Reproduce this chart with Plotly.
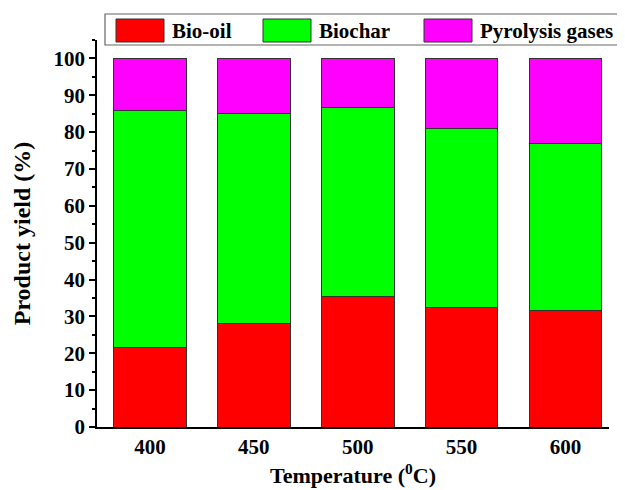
import plotly.graph_objects as go

temperatures = ["400", "450", "500", "550", "600"]
bio_oil = [21.5, 28.2, 35.3, 32.4, 31.7]
biochar = [64.4, 56.8, 51.3, 48.7, 45.3]
pyrolysis_gases = [14.1, 15.0, 13.4, 18.9, 23.0]
series_names = ["Bio-oil", "Biochar", "Pyrolysis gases"]
colors = ["#FF0000", "#00FF00", "#FF00FF"]
y_ticks = [0, 10, 20, 30, 40, 50, 60, 70, 80, 90, 100]

font_family = "Liberation Serif"

# page body has an 8px margin; size the figure so it fits the 625x490 window
OFF = 8
W, H = 625 - OFF, 490 - OFF
# plot area in window pixels: x 97..609, y 40..427
ML = 97 - OFF
MT = 40 - OFF
MR = W - (609 - OFF)
MB = H - (427 - OFF)
PW, PH = W - ML - MR, H - MT - MB


def px2paper_x(px):
    return (px - OFF - ML) / PW


def px2paper_y(py):
    return (H - MB - (py - OFF)) / PH


fig = go.Figure()
for name, vals, col in zip(series_names, [bio_oil, biochar, pyrolysis_gases], colors):
    fig.add_trace(go.Bar(
        x=temperatures, y=vals, name=name, showlegend=False,
        marker=dict(color=col, line=dict(color="#333333", width=1)),
        width=0.7,
    ))

# custom legend (boxed, large swatches)
shapes = [dict(type="rect", xref="paper", yref="paper",
               x0=px2paper_x(105), x1=px2paper_x(622),
               y0=px2paper_y(45), y1=px2paper_y(14),
               line=dict(color="#666666", width=1.2), fillcolor="white", layer="above")]
annotations = []
swatch_left = [116, 263, 424]
for name, col, sx in zip(series_names, colors, swatch_left):
    shapes.append(dict(type="rect", xref="paper", yref="paper",
                       x0=px2paper_x(sx), x1=px2paper_x(sx + 48),
                       y0=px2paper_y(42), y1=px2paper_y(19),
                       line=dict(color="#333333", width=1), fillcolor=col, layer="above"))
    annotations.append(dict(xref="paper", yref="paper",
                            x=px2paper_x(sx + 54), y=px2paper_y(30.5),
                            xanchor="left", yanchor="middle", showarrow=False,
                            text=f"<b>{name}</b>",
                            font=dict(family=font_family, size=21, color="black")))

fig.update_layout(
    barmode="stack",
    width=W, height=H,
    margin=dict(l=ML, r=MR, t=MT, b=MB, autoexpand=False),
    plot_bgcolor="white", paper_bgcolor="white",
    font=dict(family=font_family, size=21, color="black"),
    shapes=shapes, annotations=annotations,
    showlegend=False,
)
fig.update_xaxes(
    type="category", range=[-0.51, 4.42],
    showline=True, linecolor="black", linewidth=1.5,
    ticks="", showgrid=False,
    tickfont=dict(family=font_family, size=21, color="black"),
    tickprefix="<b>", ticksuffix="</b>",
    title=dict(text="<b>Temperature (<sup>0</sup>C)</b>",
               font=dict(family=font_family, size=22), standoff=10),
)
fig.update_yaxes(
    range=[0, 105],
    tickvals=y_ticks, ticktext=[f"<b>{v}</b>" for v in y_ticks],
    showline=True, linecolor="black", linewidth=1.5,
    ticks="outside", ticklen=6, tickwidth=1.5, tickcolor="black",
    minor=dict(dtick=5, ticks="outside", ticklen=3, tickwidth=1.5, tickcolor="black", showgrid=False),
    showgrid=False, zeroline=False,
    tickfont=dict(family=font_family, size=21, color="black"),
    title=dict(text="<b>Product yield (%)</b>",
               font=dict(family=font_family, size=24), standoff=16),
)

fig.write_html("out.html")
